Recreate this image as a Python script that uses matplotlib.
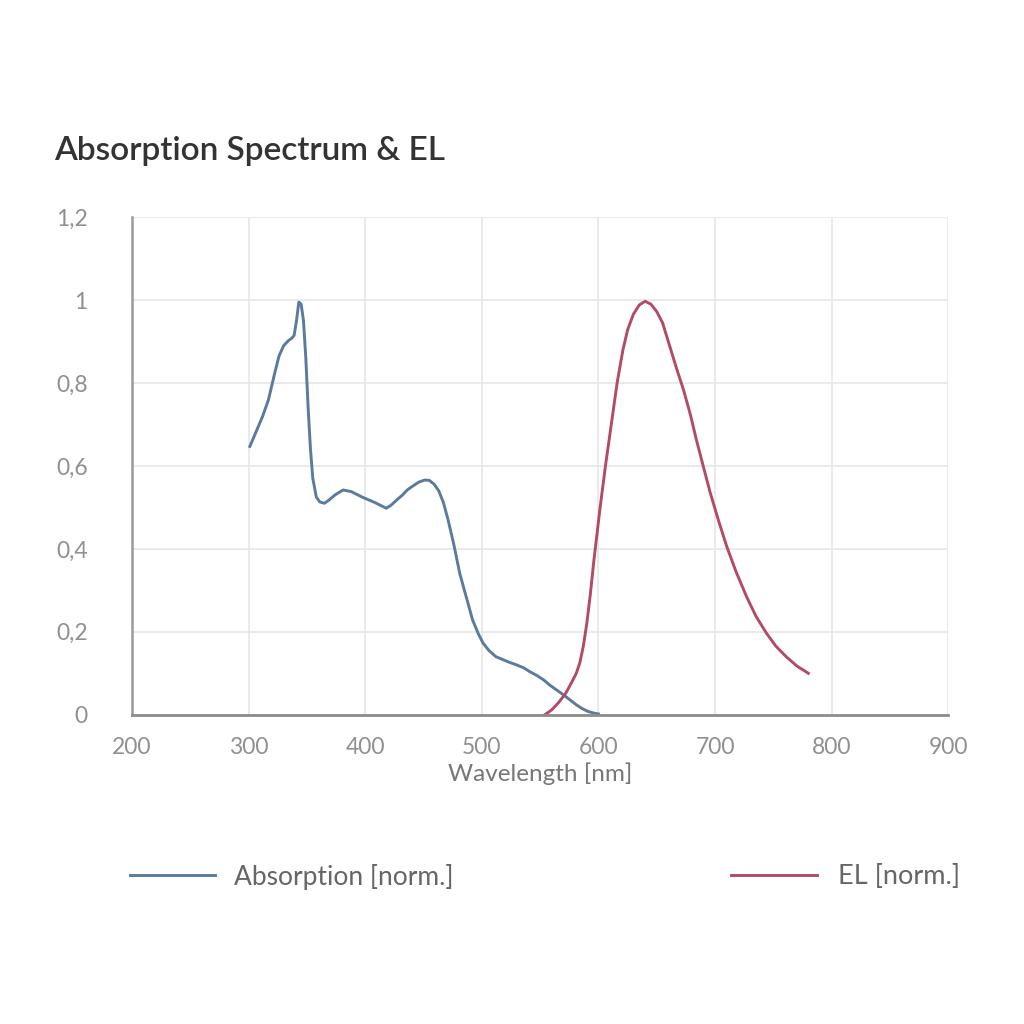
import matplotlib
matplotlib.use('Agg')
import matplotlib.pyplot as plt
from matplotlib.lines import Line2D
from matplotlib.ticker import FuncFormatter

plt.rcParams['font.family'] = ['Lato', 'DejaVu Sans']

# absorption spectrum (normalised)
abs_wl = [301, 306, 312, 317, 322, 326, 330, 334, 337, 339, 341, 343, 345, 347, 349,
          351, 353, 355, 358, 361, 365, 369, 374, 381, 388, 398, 408, 418, 422, 427,
          432, 436, 441, 446, 451, 455, 459, 463, 467, 471, 476, 481, 487, 492, 497,
          501, 506, 512, 518, 524, 530, 536, 541, 547, 553, 558, 564, 570, 576, 581,
          586, 591, 596, 600]
abs_val = [0.647, 0.68, 0.72, 0.76, 0.82, 0.865, 0.89, 0.902, 0.908, 0.915, 0.95, 0.995,
           0.99, 0.95, 0.86, 0.74, 0.64, 0.57, 0.525, 0.513, 0.51, 0.518, 0.53, 0.542,
           0.538, 0.524, 0.512, 0.498, 0.505, 0.518, 0.53, 0.542, 0.552, 0.561, 0.566,
           0.565, 0.556, 0.54, 0.512, 0.47, 0.41, 0.341, 0.28, 0.229, 0.195, 0.173, 0.155,
           0.14, 0.133, 0.126, 0.12, 0.113, 0.104, 0.095, 0.084, 0.072, 0.06, 0.048, 0.035,
           0.024, 0.015, 0.008, 0.004, 0.002]

# electroluminescence (normalised)
el_wl = [554, 560, 566, 572, 577, 581, 584, 587, 590, 593, 596, 601, 606, 611, 616, 621,
         625, 630, 635, 640, 645, 650, 655, 661, 667, 673, 679, 684, 690, 696, 703, 710,
         718, 727, 735, 744, 752, 761, 770, 780]
el_val = [0.0, 0.012, 0.03, 0.052, 0.078, 0.1, 0.125, 0.165, 0.22, 0.29, 0.37, 0.49, 0.6,
          0.7, 0.8, 0.88, 0.928, 0.966, 0.988, 0.997, 0.99, 0.972, 0.945, 0.89, 0.835,
          0.783, 0.722, 0.663, 0.598, 0.534, 0.468, 0.406, 0.345, 0.285, 0.238, 0.197,
          0.166, 0.14, 0.118, 0.1]

xticks = [200, 300, 400, 500, 600, 700, 800, 900]
yticks = [0, 0.2, 0.4, 0.6, 0.8, 1.0, 1.2]

blue = '#5a7a9e'
red = '#b24c66'
tick_grey = '#909090'

fig = plt.figure(figsize=(10.24, 10.24), dpi=100)
ax = fig.add_axes([0.129, 0.302, 0.797, 0.486])

ax.plot(abs_wl, abs_val, color=blue, lw=2.1, solid_joinstyle='round')
ax.plot(el_wl, el_val, color=red, lw=2.1, solid_joinstyle='round')

ax.set_xlim(200, 900)
ax.set_ylim(0, 1.2)
ax.set_xticks(xticks)
ax.set_yticks(yticks)


def comma_fmt(v, pos):
    s = '{:g}'.format(round(v, 2))
    return s.replace('.', ',')


ax.yaxis.set_major_formatter(FuncFormatter(comma_fmt))
ax.grid(True, color='#e6e6e6', lw=1.2)
ax.set_axisbelow(True)
ax.tick_params(length=0, labelsize=16.5, labelcolor=tick_grey)
ax.tick_params(axis='y', pad=32)
ax.tick_params(axis='x', pad=16)
for s in ['top', 'right']:
    ax.spines[s].set_visible(False)
ax.spines['left'].set_color('#9a9a9a')
ax.spines['bottom'].set_color('#8c8c8c')
ax.spines['left'].set_linewidth(1.8)
ax.spines['bottom'].set_linewidth(2.0)

ax.set_xlabel('Wavelength [nm]', fontsize=17.5, color='#777777', labelpad=3)

fig.text(0.053, 0.853, 'Absorption Spectrum & EL', fontsize=24, color='#333333',
         fontweight='semibold', ha='left', va='center')

h1 = Line2D([], [], color=blue, lw=2.1)
h2 = Line2D([], [], color=red, lw=2.1)
leg1 = fig.legend([h1], ['Absorption [norm.]'], loc='center left', bbox_to_anchor=(0.104, 0.144),
                  frameon=False, fontsize=19, handlelength=3.2, handletextpad=0.75,
                  labelcolor='#666666')
leg2 = fig.legend([h2], ['EL [norm.]'], loc='center right', bbox_to_anchor=(0.961, 0.144),
                  frameon=False, fontsize=19.5, handlelength=3.2, handletextpad=0.75,
                  labelcolor='#666666')

fig.savefig('out.png', dpi=100, facecolor='white')
